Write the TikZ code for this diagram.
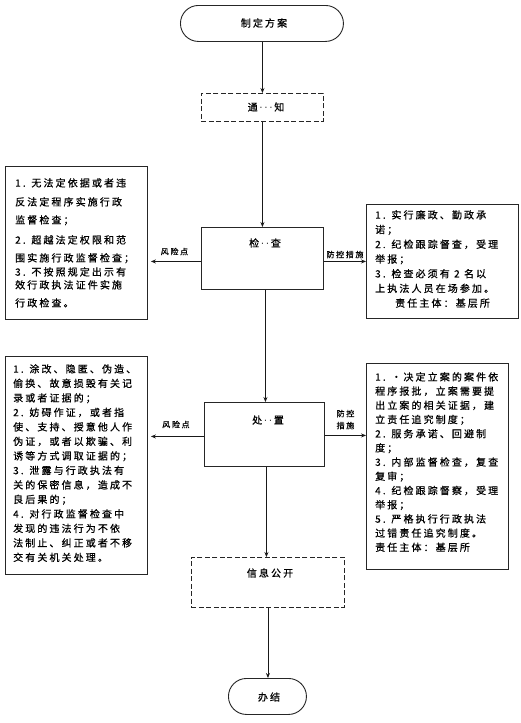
\documentclass[tikz,border=0pt]{standalone}
\usepackage{fontspec}
\setmainfont{Noto Sans CJK SC}
\newfontfamily\cjksp[LetterSpace=21,FakeBold=0.6]{Noto Sans CJK SC}
\newfontfamily\latdot{Liberation Sans}
\newcommand{\mydots}[1]{{\latdot\foreach\k in {1,...,#1}{\,·}\,}}
\usetikzlibrary{arrows.meta,calc}
\begin{document}
\begin{tikzpicture}[x=1pt,y=-1pt,
  frame/.style={draw=black!85,line width=0.9pt,inner sep=0pt,anchor=north west},
  dframe/.style={frame,dash pattern=on 5pt off 2.5pt},
  stadium/.style={frame,rounded corners=18pt},
  txt/.style={inner sep=0pt,font=\cjksp\fontsize{10}{14}\selectfont},
  para/.style={txt,anchor=north west,align=left},
  lab/.style={inner sep=0pt,font=\cjksp\fontsize{8}{12}\selectfont,align=center},
  arr/.style={-{Stealth[length=5pt,width=4pt]},line width=0.9pt,draw=black!90}]
\useasboundingbox (0,0) rectangle (520,723);
\fill[white] (0,0) rectangle (520,723);

% main flow boxes
\node[stadium,minimum width=163pt,minimum height=36pt,txt] (start) at (180,5) {};
\node[txt] (starttxt) at (264,23) {制定方案};
\node[dframe,minimum width=122pt,minimum height=28pt] (notice) at (201,93) {};
\node[txt] (noticetxt) at (266,107) {通\mydots{3}知};
\node[frame,minimum width=122pt,minimum height=62pt] (check) at (201,227) {};
\node[txt] (checktxt) at (265,243) {检\mydots{2}查};
\node[frame,minimum width=120pt,minimum height=64pt] (deal) at (204,402) {};
\node[txt] (dealtxt) at (268,420) {处\mydots{2}置};
\node[dframe,minimum width=153pt,minimum height=50pt] (info) at (191,557) {};
\node[txt] (infotxt) at (270,573) {信息公开};
\node[stadium,minimum width=78pt,minimum height=36pt] (end) at (228,678) {};
\node[txt] (endtxt) at (269,697) {办结};

% side boxes
\node[frame,minimum width=142pt,minimum height=153pt] (L1) at (5,166) {};
\node[para] (L1txt) at (15,178) {1. 无法定依据或者违\\[5pt]
反法定程序实施行政\\[4pt]
监督检查；\\[6pt]
2. 超越法定权限和范\\[4pt]
围实施行政监督检查；\\[0pt]
3. 不按照规定出示有\\[-1pt]
效行政执法证件实施\\[4pt]
行政检查。};

\node[frame,minimum width=152pt,minimum height=114pt] (R1) at (366,204) {};
\node[para,font=\cjksp\fontsize{10}{14.7}\selectfont] (R1txt) at (375,210) {1. 实行廉政、勤政承\\
诺；\\
2. 纪检跟踪督查，受理\\
举报；\\
3. 检查必须有 2 名以\\
上执法人员在场参加。\\
\hspace*{20pt}责任主体：基层所};

\node[frame,minimum width=142pt,minimum height=218pt] (L2) at (5,356) {};
\node[para,font=\cjksp\fontsize{10}{14.5}\selectfont] (L2txt) at (13,364) {1. 涂改、隐匿、伪造、\\
偷换、故意损毁有关记\\
录或者证据的；\\
2. 妨碍作证，或者指\\
使、支持、授意他人作\\
伪证，或者以欺骗、利\\
诱等方式调取证据的；\\
3. 泄露与行政执法有\\
关的保密信息，造成不\\
良后果的；\\
4. 对行政监督检查中\\
发现的违法行为不依\\
法制止、纠正或者不移\\
交有关机关处理。};

\node[frame,minimum width=142pt,minimum height=206pt] (R2) at (366,363) {};
\node[para,font=\cjksp\fontsize{10}{14.2}\selectfont] (R2txt) at (375,372) {1. ·决定立案的案件依\\
程序报批，立案需要提\\
出立案的相关证据，建\\
立责任追究制度；\\
2. 服务承诺、回避制\\
度；\\
3. 内部监督检查，复查\\
复审；\\
4. 纪检跟踪督察，受理\\
举报；\\
5. 严格执行行政执法\\
过错责任追究制度。\\
责任主体：基层所};

% vertical flow
\draw[arr] (start.south -| notice.north) -- (notice.north);
\draw[arr] (notice.south) -- (notice.south |- check.north);
\draw[arr] ($(check.south)+(3,0)$) -- ($(check.south |- deal.north)+(3,0)$);
\draw[arr] ($(deal.south)+(2,0)$) -- ($(deal.south |- info.north)+(2,0)$);
\draw[arr] (info.south) -- (info.south |- end.north);

% side arrows
\coordinate (c1l) at ($(check.west)+(0,3)$);
\coordinate (c1r) at ($(check.east)+(0,3)$);
\draw[arr] (c1l) -- ($(c1l -| L1.east)+(3,0)$);
\draw[arr] (c1r) -- (c1r -| R1.west);
\node[lab,anchor=south] (risk1) at ($(c1l)!0.5!(c1l -| L1.east)+(0,-6)$) {风险点};
\node[lab,anchor=south] (ctrl1) at ($(c1r)!0.5!(c1r -| R1.west)+(0,-3)$) {防控措施};

\coordinate (c2l) at ($(deal.west)+(0,2)$);
\coordinate (c2r) at ($(deal.east)+(0,1)$);
\draw[arr] (c2l) -- ($(c2l -| L2.east)+(3,0)$);
\draw[arr] (c2r) -- (c2r -| R2.west);
\node[lab,anchor=south] (risk2) at ($(c2l)!0.5!(c2l -| L2.east)+(0,-8)$) {风险点};
\node[lab,anchor=south] (ctrl2) at ($(c2r)!0.5!(c2r -| R2.west)+(0,-6)$) {防控\\措施};
\end{tikzpicture}
\end{document}
